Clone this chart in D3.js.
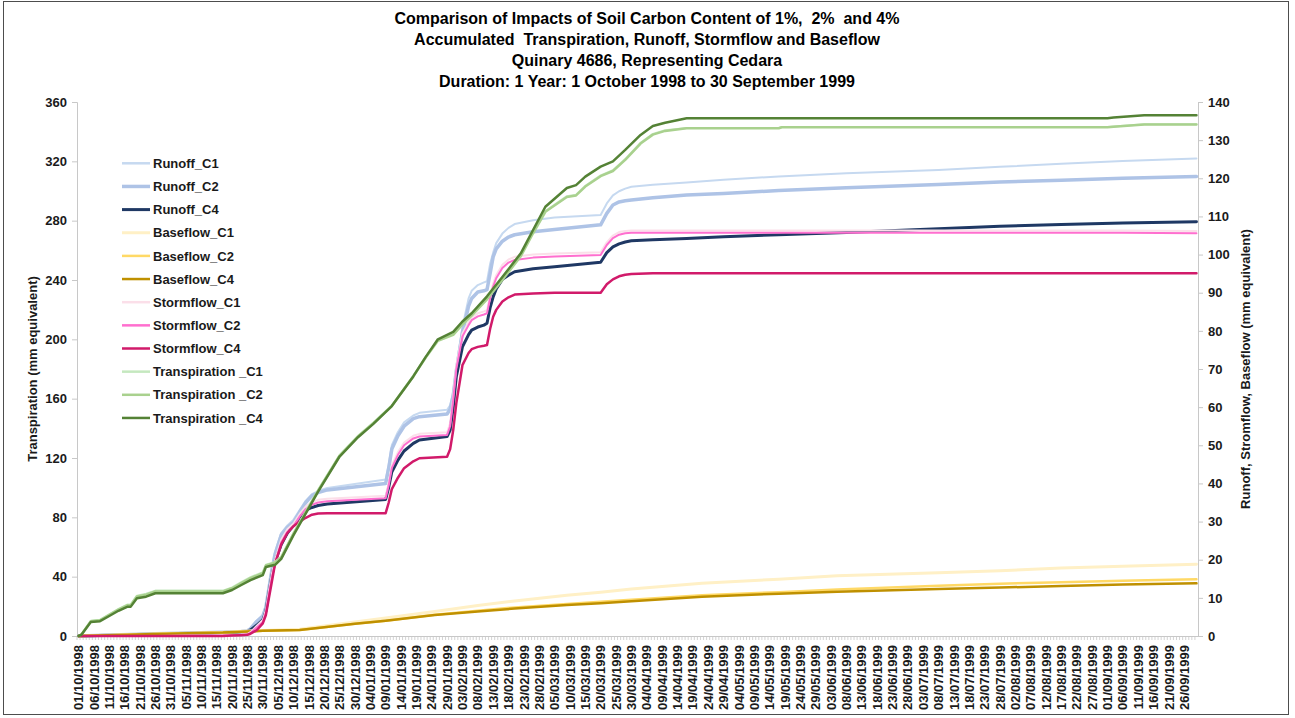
<!DOCTYPE html>
<html><head><meta charset="utf-8">
<script src="https://cdn.jsdelivr.net/npm/d3@7/dist/d3.min.js"></script>
<style>
body{margin:0;background:#fff;}
text{font-family:"Liberation Sans",Arial,Helvetica,sans-serif;}
</style>
</head><body>
<svg id="chart" width="1295" height="718"></svg>
<script>
// ---------------- DATA ----------------
const titleLines = [
  "Comparison of Impacts of Soil Carbon Content of 1%,  2%  and 4%",
  "Accumulated  Transpiration, Runoff, Stormflow and Baseflow",
  "Quinary 4686, Representing Cedara",
  "Duration: 1 Year: 1 October 1998 to 30 September 1999"
];
const leftAxisTitle = "Transpiration (mm equivalent)";
const rightAxisTitle = "Runoff, Stromflow, Baseflow (mm equivalent)";
const firstDay = "01/10/1998";
const lastDay = "30/09/1999";
const leftTicks = [0,40,80,120,160,200,240,280,320,360];
const rightTicks = [0,10,20,30,40,50,60,70,80,90,100,110,120,130,140];

// Transpiration (left axis)
const transDates = ["01/10/1998","02/10/1998","05/10/1998","08/10/1998","11/10/1998","14/10/1998","17/10/1998","18/10/1998","20/10/1998","23/10/1998",
 "26/10/1998","17/11/1998","20/11/1998","23/11/1998","26/11/1998","30/11/1998","01/12/1998","04/12/1998","06/12/1998","10/12/1998",
 "14/12/1998","18/12/1998","25/12/1998","31/12/1998","05/01/1999","11/01/1999","18/01/1999","22/01/1999","26/01/1999","31/01/1999",
 "03/02/1999","06/02/1999","11/02/1999","16/02/1999","22/02/1999","26/02/1999","02/03/1999","09/03/1999","12/03/1999","15/03/1999",
 "20/03/1999","24/03/1999","28/03/1999","02/04/1999","06/04/1999","10/04/1999","17/04/1999","17/05/1999","18/05/1999","01/09/1999",
 "03/09/1999","13/09/1999","30/09/1999"];
const transC1 = [0,1.3,10.3,11,14.6,18.3,21.3,21.3,27.2,28.5, 30.6,30.6,32.8,36.3,39.7,43,48,50,53.5,69.5,
 84,98.5,122,135,144,155.5,175.5,188,199.5,203.5, 210.5,216.5,227.5,240.5,256.5,272,286.5,296.5,297.5,303.5,
 310.5,314,321.5,332.5,338.5,341,342.5,342.5,343.2,343.2, 343.5,345,345];
const transC2 = [0,1.2,10,10.6,14.2,17.8,20.8,20.8,26.6,27.8, 30,30,32.2,35.6,39,42.3,47.5,49.5,53,69,
 83.5,98,121.5,134.5,143.5,155,175,187.5,199,203, 210,216,227,240,256,271.5,286,296,297,303,
 310,313.5,321,332,338,340.5,342.3,342.3,343,343, 343.3,344.8,344.8];
const transC4 = [0,1,9.5,10,13.5,17,19.8,19.8,25.4,26.5, 28.8,28.8,31,34.4,37.7,41,46.5,48,52,68,
 82.7,97.3,121,134,143,155,175,188,200,205, 212,217.6,229,242,258,273.7,289.4,302,304,309.7,
 316.4,320,327.7,337.8,343.8,346,349,349,349,349, 349.5,351,351];

// Runoff & Stormflow (right axis)
const flowDates = ["01/10/1998","26/10/1998","17/11/1998","20/11/1998","23/11/1998","25/11/1998","26/11/1998","28/11/1998","30/11/1998","01/12/1998",
 "02/12/1998","03/12/1998","04/12/1998","06/12/1998","08/12/1998","10/12/1998","12/12/1998","14/12/1998","16/12/1998","18/12/1998",
 "21/12/1998","09/01/1999","10/01/1999","11/01/1999","13/01/1999","15/01/1999","18/01/1999","20/01/1999","29/01/1999","30/01/1999",
 "31/01/1999","01/02/1999","03/02/1999","05/02/1999","06/02/1999","08/02/1999","10/02/1999","11/02/1999","12/02/1999","13/02/1999",
 "14/02/1999","16/02/1999","18/02/1999","20/02/1999","26/02/1999","05/03/1999","20/03/1999","22/03/1999","24/03/1999","26/03/1999",
 "28/03/1999","30/03/1999","06/04/1999","17/04/1999","29/04/1999","17/05/1999","08/06/1999","08/07/1999","28/07/1999","17/08/1999",
 "06/09/1999","30/09/1999"];
const runoffC1 = [0,0.6,1.0,1.1,1.2,1.4,2,4,5.5,8, 13,18,22,27,29,30.5,33,35.5,37.2,38,
 38.8,41,45,50,53.5,56,57.8,58.5,59.3,60.5, 64,70.5,81,88.5,90.5,92,92.7,93,97.5,100.5,
 103,105.5,107,108,109,109.7,110.4,113.4,115.5,116.6, 117.3,117.8,118.3,118.9,119.6,120.5,121.3,122.2,123,123.8,
 124.5,125.2];
const runoffC2 = [0,0.6,1.0,1.1,1.2,1.4,1.9,3.8,5.2,7.5, 12.5,17.5,21.5,26.5,28.5,29.8,32.5,35,36.8,37.6,
 38.3,40,44,49,52.5,55,57,57.5,58.2,59.5, 63,69.5,79.5,86.5,88.5,90.2,90.5,90.8,95,99.4,
 101.5,103.5,104.6,105.2,106,106.6,107.8,110.8,113,113.8, 114.1,114.3,114.9,115.6,116,116.8,117.5,118.4,119,119.5,
 120,120.5];
const runoffC4 = [0,0.5,0.9,1.0,1.1,1.2,1.6,2.8,4.2,6.5, 11.5,16,19.5,24,27,29,31.2,33,33.7,34.2,
 34.6,35.8,39,43,46.1,48.5,50.5,51.4,52.3,54, 60,68,75.8,79,80.2,81,81.5,82,86,88.9,
 91,93.5,94.6,95.5,96.3,96.8,98,100.5,102,102.8, 103.3,103.6,103.9,104.2,104.7,105.2,105.8,106.8,107.4,107.9,
 108.3,108.6];
const stormC1 = [0,0,0.1,0.2,0.3,0.5,1,2.6,4.2,6.8, 12,16.5,20,25.3,28,29.5,32,34,35.1,35.7,
 36,36.8,40.2,44.7,48.2,50.7,52.5,53,53.4,55.8, 62.8,70.8,79.3,82.3,83.6,84.6,85.1,85.4,89.3,92.4,
 94.6,97.3,98.7,99.4,100,100.3,100.6,103.2,105,105.9, 106.2,106.3,106.3,106.3,106.3,106.3,106.3,106.3,106.3,106.3,
 106.3,106.2];
const stormC2 = [0,0,0.1,0.2,0.3,0.4,0.8,2.2,3.6,6, 11,15.5,19,24.5,27.3,28.8,31.3,33.3,34.4,35,
 35.3,36.1,39.5,44,47.5,50,51.8,52.3,52.7,55, 62,70,78.5,81.5,82.8,83.8,84.3,84.6,88.5,91.6,
 93.8,96.5,97.9,98.6,99.2,99.5,99.9,102.5,104.3,105.2, 105.6,105.7,105.7,105.7,105.7,105.7,105.7,105.7,105.7,105.7,
 105.7,105.6];
const stormC4 = [0,0,0,0.1,0.2,0.3,0.6,1.5,3.3,5.5, 10,14.5,19,24,27,28.8,30,31,31.8,32.1,
 32.2,32.2,35,38.5,41.5,44,45.8,46.6,47,49, 54,61,71,74.2,75.2,75.8,76.1,76.3,80.5,83.7,
 85.5,87.7,88.8,89.5,89.8,90,90,92.2,93.5,94.3, 94.7,94.9,95.1,95.1,95.1,95.1,95.1,95.1,95.1,95.1,
 95.1,95.1];

// Baseflow (right axis)
const baseDates = ["01/10/1998","11/10/1998","26/10/1998","17/11/1998","25/11/1998","30/11/1998","12/12/1998","20/12/1998","30/12/1998","09/01/1999",
 "25/01/1999","08/02/1999","20/02/1999","09/03/1999","20/03/1999","30/03/1999","22/04/1999","17/05/1999","05/06/1999","08/07/1999",
 "28/07/1999","17/08/1999","06/09/1999","30/09/1999"];
const baseC1 = [0,0.25,0.6,1.0,1.3,1.45,1.75,2.6,3.7,4.7, 6.4,8,9.2,10.7,11.5,12.3,13.8,14.9,15.8,16.6, 17.1,17.8,18.3,18.8];
const baseC2 = [0,0.2,0.5,0.9,1.2,1.35,1.6,2.3,3.2,4.0, 5.6,6.6,7.5,8.4,9.0,9.5,10.7,11.5,12.2,13.2, 13.7,14.1,14.5,14.9];
const baseC4 = [0,0.2,0.5,0.9,1.2,1.35,1.6,2.3,3.2,4.0, 5.5,6.4,7.2,8.1,8.6,9.1,10.3,11.1,11.6,12.3, 12.7,13.1,13.5,13.8];

// ---------------- CHART ----------------
const svg = d3.select("#chart");
const plot = {left:77, right:1198, top:102, bottom:636};
const parse = d3.utcParse("%d/%m/%Y");
const fmt = d3.utcFormat("%d/%m/%Y");
const allDays = d3.utcDays(parse(firstDay), d3.utcDay.offset(parse(lastDay), 1));
const x = d3.scaleBand().domain(allDays.map(d => +d)).range([plot.left, plot.right]);
const bw = x.bandwidth();
const xc = s => x(+parse(s)) + bw / 2;
const yL = d3.scaleLinear().domain([0, 360]).range([plot.bottom, plot.top]);
const yR = d3.scaleLinear().domain([0, 140]).range([plot.bottom, plot.top]);

// frame
svg.append("rect").attr("x",3.5).attr("y",1.5).attr("width",1285).attr("height",713)
  .attr("fill","#fff").attr("stroke","#4d4d4d").attr("stroke-width",1);

// title
svg.append("g").selectAll("text").data(titleLines).join("text")
  .attr("x", 647).attr("y", (d,i) => 24 + i*21)
  .attr("text-anchor","middle").attr("font-size",16).attr("font-weight","bold").attr("fill","#000")
  .attr("xml:space","preserve").style("white-space","pre")
  .text(d => d);

const axisColor = "#c8c8c8";
const labelColor = "#1a1a1a";

// left axis
const gL = svg.append("g").attr("transform",`translate(${plot.left},0)`)
  .call(d3.axisLeft(yL).tickValues(leftTicks).tickSize(5).tickPadding(5));
// right axis
const gR = svg.append("g").attr("transform",`translate(${plot.right},0)`)
  .call(d3.axisRight(yR).tickValues(rightTicks).tickSize(5).tickPadding(5));
[gL, gR].forEach(g => {
  g.select(".domain").attr("stroke", axisColor);
  g.selectAll(".tick line").attr("stroke", axisColor);
  g.selectAll(".tick text").attr("font-size",13).attr("font-weight","bold").attr("fill",labelColor)
    .attr("font-family","Liberation Sans, Arial, sans-serif");
});

// x axis minor ticks (each day, at category boundaries)
const gMinor = svg.append("g").attr("transform",`translate(${-bw/2},${plot.bottom})`)
  .call(d3.axisBottom(x).tickValues(allDays.map(d=>+d)).tickSize(4).tickFormat(""));
gMinor.select(".domain").remove();
gMinor.selectAll(".tick line").attr("stroke", axisColor).attr("stroke-width",0.8);
// x axis line
svg.append("line").attr("x1",plot.left).attr("x2",plot.right).attr("y1",plot.bottom+0.5).attr("y2",plot.bottom+0.5)
  .attr("stroke",axisColor);
// x labels every 5 days
const gX = svg.append("g").attr("transform",`translate(0,${plot.bottom})`)
  .call(d3.axisBottom(x).tickValues(allDays.filter((d,i)=>i%5===0).map(d=>+d))
        .tickSize(0).tickFormat(d => fmt(new Date(d))));
gX.select(".domain").remove();
gX.selectAll(".tick text")
  .attr("transform","rotate(-90)").attr("x",-9).attr("y",0).attr("dy","0.36em")
  .style("text-anchor","end").attr("font-size",13).attr("font-weight","bold").attr("fill",labelColor)
  .attr("font-family","Liberation Sans, Arial, sans-serif");

// axis titles
svg.append("text").attr("transform",`translate(32,${(plot.top+plot.bottom)/2}) rotate(-90)`)
  .attr("text-anchor","middle").attr("dy","0.35em").attr("font-size",13).attr("font-weight","bold").attr("fill",labelColor)
  .text(leftAxisTitle);
svg.append("text").attr("transform",`translate(1245,${(plot.top+plot.bottom)/2}) rotate(-90)`)
  .attr("text-anchor","middle").attr("dy","0.35em").attr("font-size",13).attr("font-weight","bold").attr("fill",labelColor)
  .text(rightAxisTitle);

// series definitions (draw order = Excel series order)
const series = [
  {name:"Runoff_C1", dates:flowDates, vals:runoffC1, y:yR, color:"#c6d9f0", w:2},
  {name:"Runoff_C2", dates:flowDates, vals:runoffC2, y:yR, color:"#aec3e6", w:3.5},
  {name:"Runoff_C4", dates:flowDates, vals:runoffC4, y:yR, color:"#1f3864", w:3},
  {name:"Baseflow_C1", dates:baseDates, vals:baseC1, y:yR, color:"#fff0c6", w:3},
  {name:"Baseflow_C2", dates:baseDates, vals:baseC2, y:yR, color:"#ffd966", w:2.5},
  {name:"Baseflow_C4", dates:baseDates, vals:baseC4, y:yR, color:"#bf9000", w:2.5},
  {name:"Stormflow_C1", dates:flowDates, vals:stormC1, y:yR, color:"#fbdfe9", w:2},
  {name:"Stormflow_C2", dates:flowDates, vals:stormC2, y:yR, color:"#ff6fcf", w:2},
  {name:"Stormflow_C4", dates:flowDates, vals:stormC4, y:yR, color:"#d11a6a", w:2.5},
  {name:"Transpiration _C1", dates:transDates, vals:transC1, y:yL, color:"#c5e8bf", w:2},
  {name:"Transpiration _C2", dates:transDates, vals:transC2, y:yL, color:"#a9d18e", w:2.5},
  {name:"Transpiration _C4", dates:transDates, vals:transC4, y:yL, color:"#548235", w:2.5}
];

const gLines = svg.append("g");
series.forEach(s => {
  const pts = s.dates.map((d,i) => [xc(d), s.y(s.vals[i])]);
  gLines.append("path").attr("d", d3.line()(pts))
    .attr("fill","none").attr("stroke", s.color).attr("stroke-width", s.w)
    .attr("stroke-linejoin","round").attr("stroke-linecap","round");
});

// legend
const lg = svg.append("g");
series.forEach((s,i) => {
  const yy = 163.3 + i*23.15;
  lg.append("line").attr("x1",122).attr("x2",150).attr("y1",yy).attr("y2",yy)
    .attr("stroke",s.color).attr("stroke-width",Math.max(2.5, s.w));
  lg.append("text").attr("x",153).attr("y",yy).attr("dy","0.36em")
    .attr("font-size",13).attr("font-weight","bold").attr("fill",labelColor).text(s.name);
});
</script>
</body></html>
